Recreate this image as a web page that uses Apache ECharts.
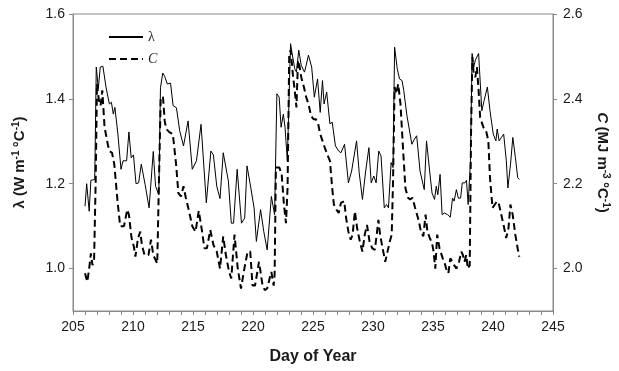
<!DOCTYPE html>
<html>
<head>
<meta charset="utf-8">
<script src="https://cdn.jsdelivr.net/npm/echarts@6/dist/echarts.min.js"></script>
<style>
  html, body { margin: 0; padding: 0; background: #fff; }
  #chart { width: 619px; height: 371px; }
</style>
</head>
<body>
<div id="chart"></div>
<script>
// thermal conductivity (left axis)
const lamDays = [206.0, 206.14, 206.35, 206.49, 206.81, 206.94, 207.11, 207.27, 207.49, 207.76,
  208.03, 208.2, 208.36, 208.49, 208.74, 209.0, 209.17, 209.47, 209.66, 209.85,
  210.04, 210.25, 210.47, 210.69, 211.01, 211.34, 211.69, 211.88, 212.15, 212.29,
  212.48, 212.64, 212.86, 213.13, 213.34, 213.62, 213.89, 214.21, 214.59, 214.94,
  215.29, 215.67, 216.11, 216.49, 216.7, 216.98, 217.25, 217.52, 217.68, 217.95,
  218.19, 218.38, 218.68, 219.04, 219.31, 219.5, 219.82, 220.09, 220.28, 220.63,
  220.9, 221.18, 221.53, 221.8, 221.99, 222.18, 222.34, 222.53, 222.67, 222.86,
  223.13, 223.26, 223.48, 223.62, 223.81, 224.02, 224.29, 224.43, 224.62, 224.89,
  225.11, 225.38, 225.6, 225.79, 225.92, 226.14, 226.41, 226.6, 226.87, 227.14,
  227.33, 227.63, 227.95, 228.22, 228.63, 228.85, 229.12, 229.39, 229.66, 229.85,
  230.07, 230.26, 230.48, 230.67, 230.94, 231.13, 231.29, 231.51, 231.67, 231.8,
  232.02, 232.21, 232.42, 232.56, 232.83, 232.97, 233.24, 233.45, 233.64, 233.92,
  234.27, 234.46, 234.72, 234.92, 235.13, 235.27, 235.4, 235.59, 235.76, 235.95,
  236.22, 236.44, 236.63, 236.76, 236.95, 237.11, 237.3, 237.44, 237.66, 237.79,
  237.93, 238.12, 238.26, 238.39, 238.53, 238.8, 239.07, 239.26, 239.53, 239.75,
  240.02, 240.24, 240.35, 240.51, 240.7, 240.89, 241.11, 241.24, 241.46, 241.65,
  241.87, 242.06, 242.19];
const lamVals = [1.147, 1.2, 1.135, 1.208, 1.21, 1.475, 1.424, 1.475, 1.477, 1.426,
  1.388, 1.392, 1.364, 1.38, 1.317, 1.234, 1.254, 1.254, 1.322, 1.261,
  1.268, 1.2, 1.202, 1.246, 1.198, 1.143, 1.276, 1.194, 1.174, 1.426,
  1.461, 1.453, 1.435, 1.437, 1.384, 1.379, 1.325, 1.289, 1.348, 1.234,
  1.254, 1.34, 1.155, 1.277, 1.268, 1.194, 1.165, 1.273, 1.269, 1.206,
  1.107, 1.107, 1.234, 1.107, 1.119, 1.242, 1.19, 1.143, 1.064, 1.139,
  1.087, 1.044, 1.17, 1.127, 1.412, 1.404, 1.333, 1.364, 1.333, 1.254,
  1.53, 1.507, 1.471, 1.463, 1.515, 1.479, 1.463, 1.479, 1.503, 1.475,
  1.404, 1.447, 1.368, 1.443, 1.388, 1.416, 1.341, 1.345, 1.289, 1.277,
  1.273, 1.293, 1.202, 1.23, 1.301, 1.226, 1.163, 1.23, 1.285, 1.202,
  1.218, 1.202, 1.277, 1.265, 1.143, 1.151, 1.143, 1.25, 1.238, 1.522,
  1.471, 1.447, 1.443, 1.42, 1.36, 1.356, 1.293, 1.305, 1.313, 1.23,
  1.186, 1.301, 1.23, 1.178, 1.163, 1.194, 1.174, 1.222, 1.127, 1.131,
  1.127, 1.121, 1.166, 1.159, 1.186, 1.166, 1.166, 1.202, 1.202, 1.208,
  1.151, 1.254, 1.507, 1.475, 1.491, 1.507, 1.372, 1.396, 1.428, 1.372,
  1.317, 1.301, 1.329, 1.301, 1.309, 1.317, 1.254, 1.19, 1.246, 1.309,
  1.261, 1.214, 1.21];

// volumetric heat capacity (right axis)
const cDays = [206.0, 206.19, 206.35, 206.49, 206.62, 206.76, 206.89, 207.0, 207.16, 207.3,
  207.44, 207.63, 207.9, 208.03, 208.25, 208.44, 208.71, 208.93, 209.25, 209.52,
  209.66, 209.88, 210.07, 210.2, 210.42, 210.61, 210.74, 210.96, 211.29, 211.5,
  211.69, 211.83, 212.02, 212.15, 212.31, 212.5, 212.64, 212.77, 213.05, 213.32,
  213.59, 213.78, 214.0, 214.21, 214.4, 214.67, 214.94, 215.21, 215.48, 215.76,
  215.95, 216.16, 216.44, 216.7, 216.98, 217.25, 217.52, 217.74, 218.01, 218.19,
  218.46, 218.73, 219.0, 219.28, 219.55, 219.77, 219.96, 220.17, 220.36, 220.5,
  220.63, 220.77, 220.98, 221.18, 221.39, 221.53, 221.72, 221.8, 221.91, 222.04,
  222.2, 222.39, 222.58, 222.75, 222.88, 223.02, 223.15, 223.34, 223.48, 223.62,
  223.75, 223.89, 224.02, 224.24, 224.43, 224.62, 224.84, 225.05, 225.24, 225.43,
  225.6, 225.79, 225.98, 226.19, 226.41, 226.6, 226.74, 226.95, 227.14, 227.33,
  227.6, 227.76, 227.95, 228.14, 228.3, 228.49, 228.68, 228.9, 229.12, 229.31,
  229.5, 229.71, 229.93, 230.15, 230.31, 230.45, 230.59, 230.8, 231.02, 231.21,
  231.4, 231.56, 231.67, 231.8, 231.94, 232.1, 232.29, 232.48, 232.7, 232.91,
  233.1, 233.29, 233.51, 233.83, 233.99, 234.19, 234.38, 234.54, 234.73, 234.92,
  235.05, 235.19, 235.35, 235.54, 235.68, 235.81, 235.95, 236.09, 236.28, 236.44,
  236.63, 236.76, 236.95, 237.17, 237.36, 237.49, 237.63, 237.77, 237.9, 238.06,
  238.17, 238.28, 238.39, 238.53, 238.66, 238.8, 238.93, 239.2, 239.42, 239.61,
  239.75, 239.96, 240.15, 240.34, 240.5, 240.69, 240.88, 241.1, 241.29, 241.45,
  241.64, 241.86, 242.05, 242.19];
const cVals = [1.989, 1.969, 2.0, 2.036, 2.008, 2.024, 2.206, 2.435, 2.396, 2.384,
  2.42, 2.333, 2.293, 2.277, 2.273, 2.246, 2.159, 2.1, 2.1, 2.139,
  2.127, 2.072, 2.052, 2.028, 2.072, 2.087, 2.056, 2.032, 2.032, 2.068,
  2.032, 2.032, 2.012, 2.016, 2.404, 2.404, 2.348, 2.329, 2.321, 2.317,
  2.246, 2.178, 2.17, 2.194, 2.167, 2.135, 2.1, 2.087, 2.136, 2.087,
  2.048, 2.048, 2.091, 2.056, 2.04, 2.0, 2.076, 2.032, 1.992, 1.977,
  2.08, 2.0, 1.953, 2.0, 2.04, 2.04, 1.96, 1.96, 1.992, 2.016,
  1.992, 1.965, 1.949, 1.953, 1.977, 1.992, 1.96, 1.985, 2.238, 2.242,
  2.238, 2.222, 2.151, 2.107, 2.19, 2.507, 2.515, 2.451, 2.42, 2.38,
  2.491, 2.475, 2.451, 2.428, 2.404, 2.388, 2.36, 2.352, 2.352, 2.341,
  2.317, 2.301, 2.285, 2.269, 2.254, 2.19, 2.151, 2.139, 2.131, 2.155,
  2.159, 2.119, 2.087, 2.068, 2.08, 2.135, 2.095, 2.064, 2.04, 2.08,
  2.103, 2.064, 2.048, 2.044, 2.08, 2.115, 2.08, 2.048, 2.016, 2.04,
  2.064, 2.08, 2.206, 2.428, 2.412, 2.435, 2.388, 2.293, 2.19, 2.167,
  2.163, 2.167, 2.143, 2.111, 2.087, 2.076, 2.127, 2.087, 2.072, 2.06,
  2.04, 2.0, 2.08, 2.048, 2.044, 2.024, 2.016, 2.0, 1.989, 2.024,
  2.016, 2.008, 2.0, 2.016, 2.04, 2.032, 2.016, 2.032, 2.0, 2.008,
  2.317, 2.499, 2.459, 2.451, 2.475, 2.42, 2.356, 2.333, 2.325, 2.301,
  2.214, 2.143, 2.151, 2.159, 2.151, 2.127, 2.103, 2.072, 2.095, 2.151,
  2.127, 2.08, 2.048, 2.028];

const xTicks = [205, 245, 5];
const lamTicks = [1.0, 1.2, 1.4, 1.6];
const cTicks = [2.0, 2.2, 2.4, 2.6];

const chart = echarts.init(document.getElementById('chart'));

const axisGray = '#8a8a8a';
const labelStyle = { color: '#1a1a1a', fontSize: 14, fontFamily: 'Liberation Sans, Arial, sans-serif' };
const nameRich = {
  a: { fontSize: 15, fontWeight: 'bold', fontFamily: 'Liberation Sans, Arial, sans-serif', color: '#1a1a1a', lineHeight: 18 },
  i: { fontSize: 15, fontWeight: 'bold', fontStyle: 'italic', fontFamily: 'Liberation Sans, Arial, sans-serif', color: '#1a1a1a', lineHeight: 18 },
  s: { fontSize: 10, fontWeight: 'bold', fontFamily: 'Liberation Sans, Arial, sans-serif', color: '#1a1a1a', verticalAlign: 'top', lineHeight: 18 }
};

const option = {
  animation: false,
  backgroundColor: '#fff',
  grid: { left: 73, right: 55, top: 14, bottom: 60, show: true, borderColor: axisGray, borderWidth: 1 },
  legend: {
    orient: 'vertical',
    left: 103,
    top: 25,
    itemWidth: 34,
    itemHeight: 10,
    itemGap: 8,
    itemStyle: { opacity: 0, borderWidth: 0 },
    textStyle: { fontFamily: 'Liberation Serif, Times New Roman, serif', fontSize: 14, color: '#1a1a1a' },
    data: [
      { name: 'λ' },
      { name: 'C', textStyle: { fontStyle: 'italic' } }
    ]
  },
  xAxis: {
    type: 'value',
    min: xTicks[0],
    max: xTicks[1],
    interval: xTicks[2],
    name: 'Day of Year',
    nameLocation: 'middle',
    nameGap: 38,
    nameTextStyle: { fontSize: 16, fontWeight: 'bold', fontFamily: 'Liberation Sans, Arial, sans-serif', color: '#1a1a1a' },
    axisLine: { lineStyle: { color: axisGray, width: 1 } },
    axisTick: { length: 4, lineStyle: { color: axisGray } },
    minorTick: { show: true, splitNumber: 5, length: 4, lineStyle: { color: axisGray } },
    axisLabel: Object.assign({ margin: 9 }, labelStyle),
    splitLine: { show: false }
  },
  yAxis: [
    {
      type: 'value',
      min: 0.9,
      max: 1.6,
      name: '{a|λ (W m}{s|-1} {a|°C}{s|-1}{a|)}',
      nameLocation: 'middle',
      nameRotate: 90,
      nameGap: 44,
      nameTextStyle: { rich: nameRich },
      axisLine: { show: true, lineStyle: { color: axisGray, width: 1 } },
      axisTick: { show: true, length: 4, customValues: lamTicks, lineStyle: { color: axisGray } },
      axisLabel: Object.assign({ margin: 8, customValues: lamTicks, formatter: v => v.toFixed(1) }, labelStyle),
      splitLine: { show: false }
    },
    {
      type: 'value',
      min: 1.9,
      max: 2.6,
      position: 'right',
      name: '{i|C} {a|(MJ m}{s|-3} {a|°C}{s|-1}{a|)}',
      nameLocation: 'middle',
      nameRotate: -90,
      nameGap: 40,
      nameTextStyle: { rich: nameRich },
      axisLine: { show: true, lineStyle: { color: axisGray, width: 1 } },
      axisTick: { show: true, length: 4, customValues: cTicks, lineStyle: { color: axisGray } },
      axisLabel: Object.assign({ margin: 10, customValues: cTicks, formatter: v => v.toFixed(1) }, labelStyle),
      splitLine: { show: false }
    }
  ],
  series: [
    {
      name: 'λ',
      type: 'line',
      yAxisIndex: 0,
      symbol: 'none',
      data: lamDays.map((d, i) => [d, lamVals[i]]),
      lineStyle: { color: '#000', width: 1 },
      itemStyle: { color: '#000' }
    },
    {
      name: 'C',
      type: 'line',
      yAxisIndex: 1,
      symbol: 'none',
      data: cDays.map((d, i) => [d, cVals[i]]),
      lineStyle: { color: '#000', width: 2, type: [7, 4] },
      itemStyle: { color: '#000' }
    }
  ]
};

chart.setOption(option);
</script>
</body>
</html>
